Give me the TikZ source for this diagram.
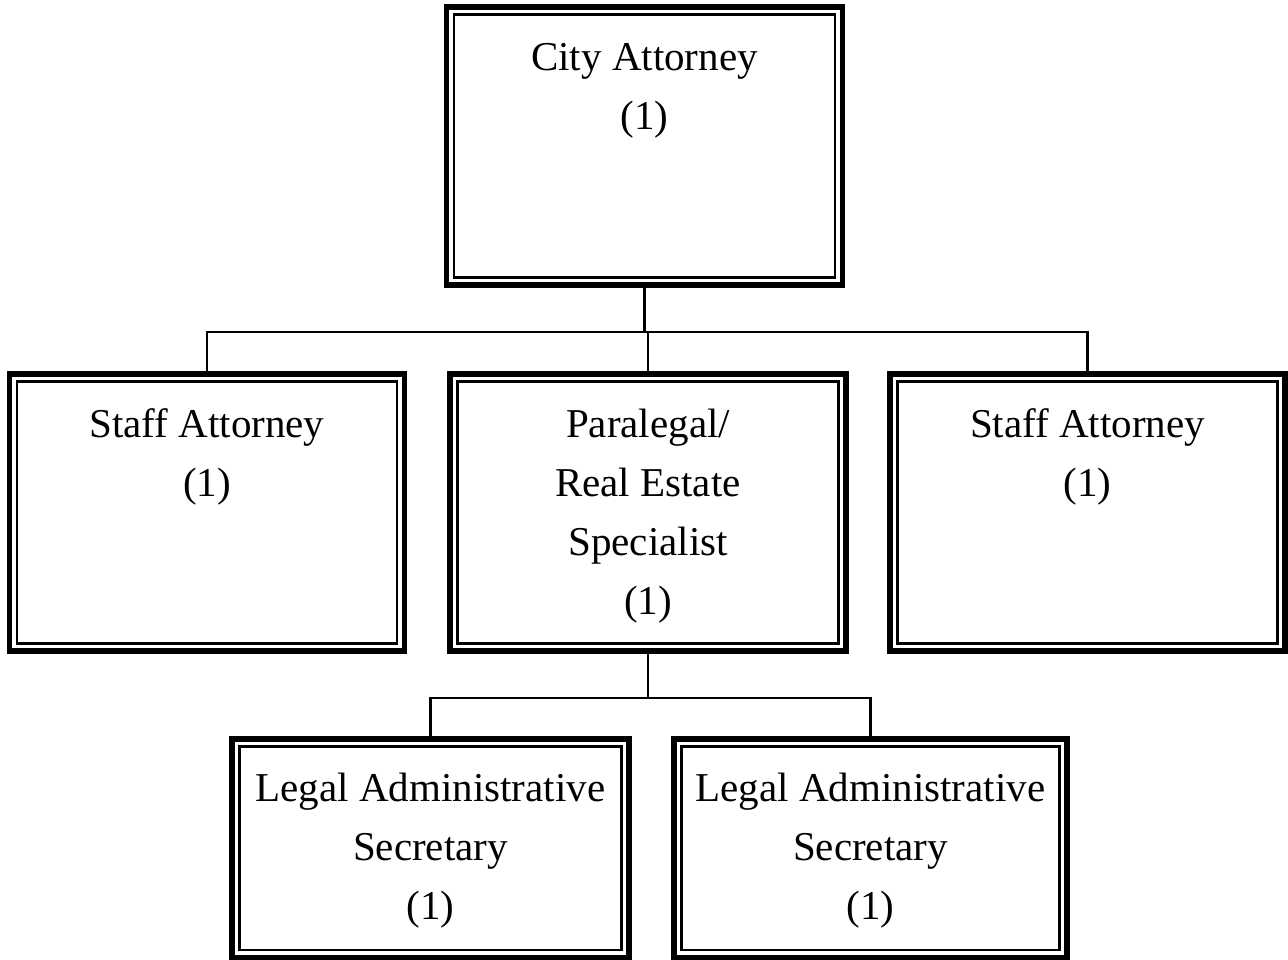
\documentclass[tikz,border=0pt]{standalone}
\usepackage{fontspec}
\setmainfont{Liberation Serif}
\begin{document}
\begin{tikzpicture}[x=1pt,y=-1pt,
  posbox/.style={draw, line width=5.5pt, inner sep=0pt, outer sep=0pt,
    minimum width=#1,
    path picture={\draw[line width=2.5pt]
      ([shift={(7.5pt,-7.5pt)}]path picture bounding box.north west) rectangle
      ([shift={(-7.5pt,7.5pt)}]path picture bounding box.south east);}},
  midbox/.style={posbox=#1, minimum height=277pt},
  lowbox/.style={posbox=#1, minimum height=218.5pt},
  title/.style={anchor=north, inner sep=0pt, align=center,
    font=\fontsize{41}{59}\selectfont},
  link/.style={line width=2.6pt}]
\useasboundingbox (0,0) rectangle (1288,960);

% boxes
\node[posbox=396pt, minimum height=278pt] (ca) at (644.5,146) {};
\node[midbox=395pt] (sa1) at (207,512.5) {};
\node[midbox=396pt] (pl) at (648,512.5) {};
\node[midbox=395pt] (sa2) at (1087.5,512.5) {};
\node[lowbox=397pt] (ls1) at (430.5,848) {};
\node[lowbox=393pt] (ls2) at (870.5,848) {};

% titles
\node[title] (tca) at ([yshift=-28pt]ca.north) {\rule{0pt}{35pt}City Attorney\\(1)};
\node[title] (tsa1) at ([yshift=-28pt]sa1.north) {\rule{0pt}{35pt}Staff Attorney\\(1)};
\node[title] (tpl) at ([yshift=-28pt]pl.north) {\rule{0pt}{35pt}Paralegal/\\Real Estate\\Specialist\\(1)};
\node[title] (tsa2) at ([yshift=-28pt]sa2.north) {\rule{0pt}{35pt}Staff Attorney\\(1)};
\node[title] (tls1) at ([yshift=-28pt]ls1.north) {\rule{0pt}{35pt}Legal Administrative\\Secretary\\(1)};
\node[title] (tls2) at ([yshift=-28pt]ls2.north) {\rule{0pt}{35pt}Legal Administrative\\Secretary\\(1)};

% connectors
\coordinate (bus1) at (0,332);
\coordinate (bus2) at (0,698);
\draw[link] (ca.south) -- (ca.south |- bus1);
\draw[link] (sa1.north) -- (sa1.north |- bus1) -- (sa2.north |- bus1) -- (sa2.north);
\draw[link] (pl.north) -- (pl.north |- bus1);
\draw[link] (pl.south) -- (pl.south |- bus2);
\draw[link] (ls1.north) -- (ls1.north |- bus2) -- (ls2.north |- bus2) -- (ls2.north);
\end{tikzpicture}
\end{document}
